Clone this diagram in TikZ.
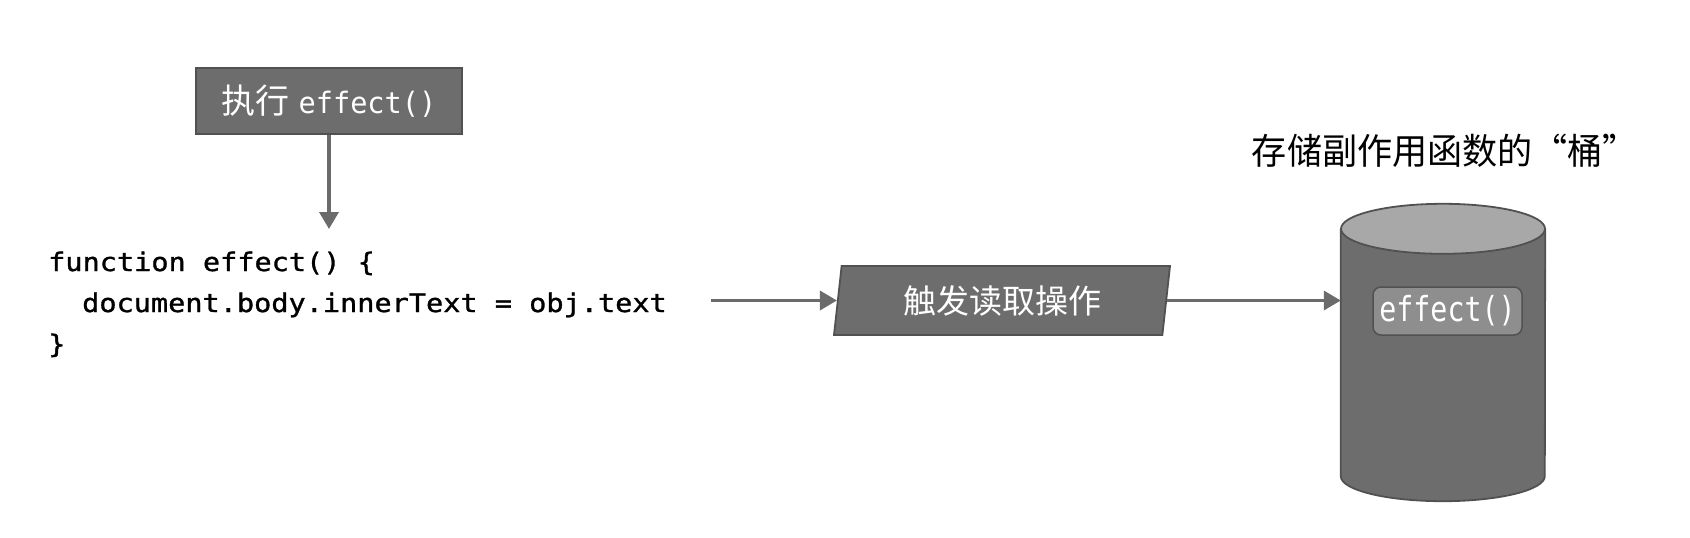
\documentclass[tikz,border=0pt]{standalone}
\usepackage{fontspec}
\usetikzlibrary{shapes.geometric,arrows.meta}
\newfontfamily\cjkA{Noto Sans CJK SC}
\newfontfamily\cjkT[FakeStretch=0.975]{Noto Sans CJK SC}
\newfontfamily\codefont[FakeStretch=1.12,FakeBold=1.2]{DejaVu Sans Mono}
\newfontfamily\boxmono[FakeStretch=0.97]{DejaVu Sans Mono}
\newfontfamily\cylmono[FakeStretch=0.82]{DejaVu Sans Mono}
\definecolor{boxgray}{HTML}{6D6D6D}
\definecolor{edgegray}{HTML}{515151}
\definecolor{arrgray}{HTML}{6B6B6B}
\definecolor{topgray}{HTML}{A8A8A8}
\definecolor{innergray}{HTML}{8E8E8E}
\tikzset{
  arr/.style={draw=arrgray, line width=3.5pt, -{Triangle[width=19pt,length=17pt]}},
  darkbox/.style={draw=edgegray, line width=1.8pt, fill=boxgray, text=white, inner sep=0pt},
  codeline/.style={anchor=base west, inner sep=0pt, font=\codefont\fontsize{25.5}{30}\selectfont},
}
\begin{document}
\begin{tikzpicture}[x=1pt,y=-1pt]
\useasboundingbox[fill=white] (0,0) rectangle (1690,538);

% top box
\node[darkbox, minimum width=266pt, minimum height=66pt] (exec) at (329,101)
  {{\cjkA\fontsize{34}{40}\selectfont 执行}\hspace{9pt}{\boxmono\fontsize{29.5}{34}\selectfont effect()}};
\coordinate (tip1) at (329,229);
\draw[arr] (exec.south) -- (tip1);

% code
\node[codeline] (code1) at (48,271) {function effect() \{};
\node[codeline] (code2) at (82,312) {document.body.innerText = obj.text};
\node[codeline] (code3) at (48,353) {\}};

% parallelogram
\node[darkbox, trapezium, trapezium left angle=76, trapezium right angle=104,
      trapezium stretches body, minimum width=336pt, minimum height=69pt,
      font=\cjkA\fontsize{33}{38}\selectfont] (par) at (1002,300.5) {触发读取操作};
\draw[arr] ([xshift=44pt]code2.east |- par.west) -- (par.west);

% cylinder frame
\node[minimum width=204pt, minimum height=297pt, inner sep=0pt] (cyl) at (1443,352.5) {};
\fill[boxgray] (cyl.north west) ++(0,25) -- ([yshift=25pt]cyl.south west)
  arc[start angle=180, end angle=360, x radius=102pt, y radius=25pt]
  -- ([yshift=-25pt]cyl.north east) -- cycle;
\draw[edgegray, line width=1.8pt] (cyl.north west) ++(0,25) -- ([yshift=25pt]cyl.south west)
  arc[start angle=180, end angle=360, x radius=102pt, y radius=25pt]
  -- ([yshift=-25pt]cyl.north east);
\filldraw[fill=topgray, draw=edgegray, line width=1.8pt] ([yshift=-25pt]cyl.north)
  ellipse[x radius=102pt, y radius=25pt];
\node[draw=edgegray, line width=1.5pt, fill=innergray, rounded corners=8pt,
      minimum width=149pt, minimum height=48pt, inner sep=0pt, text=white,
      font=\cylmono\fontsize{34.5}{38}\selectfont] (inner) at (1447.5,311) {effect()};

\draw[arr] (par.east) -- (par.east -| cyl.west);

% title
\node[inner sep=0pt, font=\cjkT\fontsize{36}{42}\selectfont] (title) at (1445,151)
  {存储副作用函数的“桶”};
\end{tikzpicture}
\end{document}
